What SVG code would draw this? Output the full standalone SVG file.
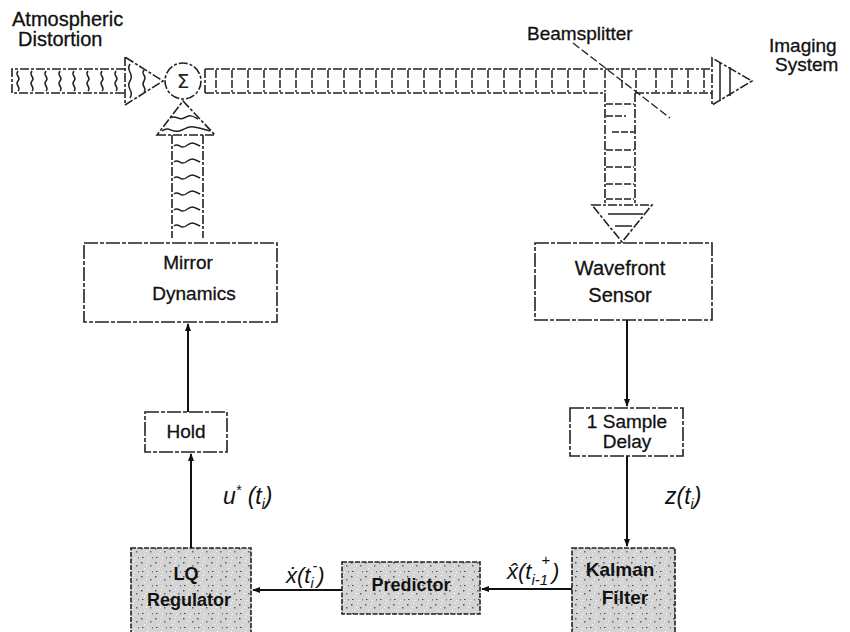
<svg xmlns="http://www.w3.org/2000/svg" width="850" height="632" viewBox="0 0 850 632">
<style>
.t{font-family:"Liberation Sans",Arial,sans-serif;font-size:19px;fill:#111;stroke:#111;stroke-width:0.3;}
.tb{font-family:"Liberation Sans",Arial,sans-serif;font-size:18px;font-weight:bold;fill:#111;}
.m{font-family:"Liberation Sans",Arial,sans-serif;font-size:23px;font-style:italic;fill:#111;}
.b{fill:none;stroke:#222;stroke-width:1.6;stroke-dasharray:9 2 3 2;}
.box{fill:#fff;stroke:#222;stroke-width:1.6;stroke-dasharray:14 2 4 2;}
.sh{fill:url(#stip);stroke:#222;stroke-width:1.6;stroke-dasharray:5 1.5;}
.w{fill:none;stroke:#222;stroke-width:1.5;}
.c{fill:none;stroke:#111;stroke-width:2;}
</style>
<defs>
<pattern id="stip" width="14" height="14" patternUnits="userSpaceOnUse">
<rect width="14" height="14" fill="#d4d4d4"/>
<rect x="1" y="2" width="1.5" height="1.5" fill="#555"/>
<rect x="7" y="1" width="1" height="1" fill="#fff"/>
<rect x="10" y="5" width="1.5" height="1.5" fill="#666"/>
<rect x="4" y="8" width="1" height="1" fill="#fff"/>
<rect x="2" y="11" width="1.5" height="1" fill="#444"/>
<rect x="12" y="11" width="1" height="1.5" fill="#777"/>
<rect x="6" y="5" width="1" height="1" fill="#fff"/>
<rect x="8" y="12" width="1" height="1" fill="#fff"/>
</pattern>
<marker id="ah" markerWidth="8" markerHeight="8" refX="7" refY="4" orient="auto" markerUnits="userSpaceOnUse">
<path d="M0,1 L8,4 L0,7 Z" fill="#111"/>
</marker>
</defs>

<g id="labels">
<text class="t" x="12" y="26" style="font-size:20px">Atmospheric</text>
<text class="t" x="18" y="46" style="font-size:20px">Distortion</text>
<text class="t" x="527" y="40">Beamsplitter</text>
<text class="t" x="769" y="52">Imaging</text>
<text class="t" x="775" y="71">System</text>
</g>

<g id="beam-left">
<path class="b" d="M125,69 H12 V93 H125"/>
<g class="w">
<path d="M18,71 c-4,5 4,6 0,10 s4,6 0,10"/>
<path d="M32,71 c-4,5 4,6 0,10 s4,6 0,10"/>
<path d="M46,71 c-4,5 4,6 0,10 s4,6 0,10"/>
<path d="M60,71 c-4,5 4,6 0,10 s4,6 0,10"/>
<path d="M74,71 c-4,5 4,6 0,10 s4,6 0,10"/>
<path d="M88,71 c-4,5 4,6 0,10 s4,6 0,10"/>
<path d="M102,71 c-4,5 4,6 0,10 s4,6 0,10"/>
<path d="M116,71 c-4,5 4,6 0,10 s4,6 0,10"/>
<path d="M130,64 c-5,7 5,9 0,17 s5,9 0,17"/>
<path d="M144,70 c-4,5 4,5 0,11 s4,6 0,11"/>
</g>
<polygon class="b" points="125,57 125,105 163,81"/>
</g>

<g id="sum">
<circle class="b" cx="183" cy="81" r="18"/>
<text x="183" y="88" text-anchor="middle" style="font-family:'DejaVu Sans',sans-serif;font-size:20px;fill:#222;">Σ</text>
</g>

<g id="beam-right">
<path class="b" d="M205,69 H712 M205,93 H605 M635,93 H712 M205,69 V93"/>
<path class="w" d="M216,70 V92 M232,70 V92 M248,70 V92 M264,70 V92 M280,70 V92 M296,70 V92 M312,70 V92 M328,70 V92 M344,70 V92 M360,70 V92 M376,70 V92 M392,70 V92 M408,70 V92 M424,70 V92 M440,70 V92 M456,70 V92 M472,70 V92 M488,70 V92 M504,70 V92 M520,70 V92 M536,70 V92 M552,70 V92 M568,70 V92 M584,70 V92 M605,70 V92 M622,70 V90 M636,70 V92 M656,70 V92 M672,70 V92 M688,70 V92 M704,70 V92" stroke-dasharray="8 2"/>
<polygon class="b" points="712,58 712,105 752,81"/>
<path class="w" d="M720,62 V101 M730,67 V96"/>
</g>

<g id="beamsplitter">
<line x1="573" y1="43" x2="670" y2="118" stroke="#222" stroke-width="1.3" stroke-dasharray="8 3"/>
</g>

<g id="beam-down">
<path class="b" d="M605,93 V205 M635,93 V205"/>
<path class="w" d="M606,104 H634 M606,116 H626 M612,132 H634 M606,150 H634 M606,167 H634 M606,184 H634 M606,199 H634" stroke-dasharray="7 2"/>
<polygon class="b" points="592,205 652,205 622,242"/>
<path class="w" d="M608,214 H643 M615,226 H632"/>
</g>

<g id="beam-up">
<path class="b" d="M172,135 V238 M203,135 V238"/>
<g class="w">
<path d="M174,146 c5,-4 6,4 12,0 s6,-4 14,0"/>
<path d="M174,162 c5,-4 6,4 12,0 s6,-4 14,0"/>
<path d="M174,178 c5,-4 6,4 12,0 s6,-4 14,0"/>
<path d="M174,194 c5,-4 6,4 12,0 s6,-4 14,0"/>
<path d="M174,210 c5,-4 6,4 12,0 s6,-4 14,0"/>
<path d="M174,226 c5,-4 6,4 12,0 s6,-4 14,0"/>
<path d="M162,131 c8,-6 10,4 20,-1 s10,-4 28,1"/>
<path d="M170,118 c6,-4 8,3 14,0 s7,-3 14,1"/>
</g>
<polygon class="b" points="157,135 215,135 183,101"/>
</g>

<g id="mirror-dynamics">
<rect class="box" x="84" y="243" width="193" height="79"/>
<text class="t" x="188" y="269" text-anchor="middle">Mirror</text>
<text class="t" x="194" y="300" text-anchor="middle">Dynamics</text>
</g>

<g id="wavefront-sensor">
<rect class="box" x="535" y="243" width="177" height="77"/>
<text class="t" x="620" y="275" text-anchor="middle" style="font-size:20px">Wavefront</text>
<text class="t" x="620" y="302" text-anchor="middle" style="font-size:20px">Sensor</text>
</g>

<g id="hold">
<rect class="box" x="145" y="412" width="82" height="40"/>
<text class="t" x="186" y="438" text-anchor="middle">Hold</text>
</g>

<g id="sample-delay">
<rect class="box" x="570" y="408" width="113" height="48"/>
<text class="t" x="627" y="428" text-anchor="middle">1 Sample</text>
<text class="t" x="627" y="448" text-anchor="middle">Delay</text>
</g>

<g id="lq-regulator">
<rect class="sh" x="131" y="548" width="120" height="86"/>
<text class="tb" x="186" y="580" text-anchor="middle">LQ</text>
<text class="tb" x="189" y="606" text-anchor="middle">Regulator</text>
</g>

<g id="predictor">
<rect class="sh" x="342" y="562" width="138" height="52"/>
<text class="tb" x="411" y="591" text-anchor="middle">Predictor</text>
</g>

<g id="kalman-filter">
<rect class="sh" x="572" y="548" width="103" height="86"/>
<text class="tb" x="620" y="576" text-anchor="middle" style="font-size:19px">Kalman</text>
<text class="tb" x="625" y="604" text-anchor="middle" style="font-size:19px">Filter</text>
</g>

<g id="connectors">
<line class="c" x1="188" y1="412" x2="188" y2="324" marker-end="url(#ah)"/>
<line class="c" x1="191" y1="548" x2="191" y2="454" marker-end="url(#ah)"/>
<line class="c" x1="627" y1="320" x2="627" y2="406" marker-end="url(#ah)"/>
<line class="c" x1="627" y1="456" x2="627" y2="546" marker-end="url(#ah)"/>
<line class="c" x1="572" y1="589" x2="482" y2="589" marker-end="url(#ah)"/>
<line class="c" x1="342" y1="590" x2="253" y2="590" marker-end="url(#ah)"/>
</g>

<g id="math-labels">
<text class="m" x="223" y="504">u<tspan dy="-9" font-size="14">*</tspan><tspan dy="9"> (t</tspan><tspan dy="5" font-size="14">i</tspan><tspan dy="-5">)</tspan></text>
<text class="m" x="665" y="504">z(t<tspan dy="5" font-size="14">i</tspan><tspan dy="-5">)</tspan></text>
<text class="m" x="286" y="583" style="font-size:22px">ẋ(t<tspan dy="5" font-size="14">i</tspan><tspan dx="-1" dy="-17" font-size="14">-</tspan><tspan dy="12">)</tspan></text>
<text class="m" x="507" y="579" style="font-size:22px">x̂(t<tspan dy="6" font-size="15">i-1</tspan><tspan dx="-7" dy="-20" font-size="15">+</tspan><tspan dx="2" dy="14">)</tspan></text>
</g>
</svg>
